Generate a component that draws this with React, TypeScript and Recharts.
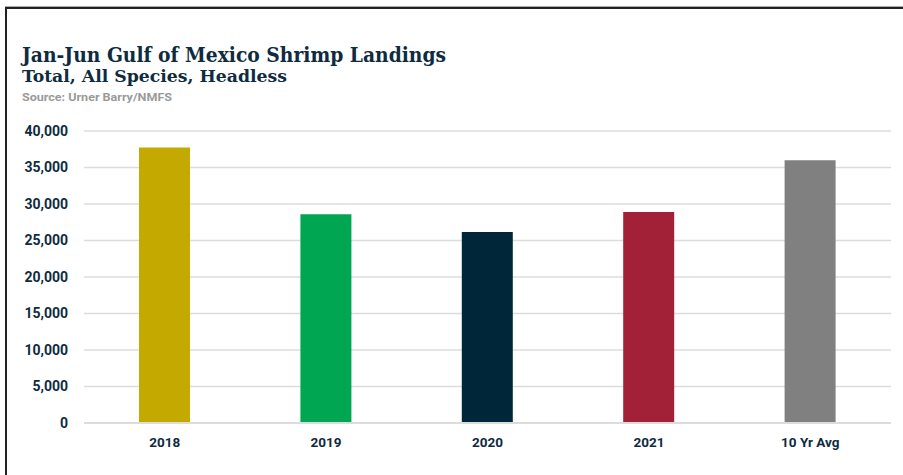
import React from "react";
import { BarChart, Bar, XAxis, YAxis, CartesianGrid, Cell } from "recharts";

const categories = ["2018", "2019", "2020", "2021", "10 Yr Avg"];
const landings = [37750, 28600, 26150, 28900, 36000];
const barColors = ["#C4A900", "#00A651", "#00263A", "#A32136", "#808080"];
const yTicks = [0, 5000, 10000, 15000, 20000, 25000, 30000, 35000, 40000];

const data = categories.map((c, i) => ({ name: c, value: landings[i] }));

const navy = "#0F2B40";

export default function App() {
  return (
    <div style={{ position: "absolute", left: 0, top: 0, width: 903, height: 475, background: "#fff", overflow: "hidden" }}>
      <div style={{ position: "absolute", left: 5, top: 6, width: 910, height: 1, background: "#aaa" }} />
      <div style={{ position: "absolute", left: 5, top: 7, width: 910, height: 2, background: "#222" }} />
      <div style={{ position: "absolute", left: 5, top: 7, width: 2, height: 480, background: "#222" }} />
      <svg style={{ position: "absolute", left: 0, top: 0 }} width={903} height={110}>
        <text x={22} y={62} fill={navy} fontFamily="DejaVu Serif Condensed, DejaVu Serif" fontWeight={700} fontSize={20.5} textLength={424} lengthAdjust="spacingAndGlyphs">
          Jan-Jun Gulf of Mexico Shrimp Landings
        </text>
        <text x={22} y={82} fill={navy} fontFamily="DejaVu Serif Condensed, DejaVu Serif" fontWeight={700} fontSize={17} textLength={265} lengthAdjust="spacingAndGlyphs">
          Total, All Species, Headless
        </text>
        <text x={22} y={101} fill="#9a9a9a" fontFamily="Roboto" fontWeight={700} fontSize={11} textLength={150} lengthAdjust="spacingAndGlyphs">
          Source: Urner Barry/NMFS
        </text>
      </svg>
      <div style={{ position: "absolute", left: 0, top: 0 }}>
        <BarChart width={903} height={475} data={data} margin={{ top: 131, right: 12, bottom: 22, left: 0 }}>
          <CartesianGrid vertical={false} stroke="#dcdcdc" strokeWidth={1.5} />
          <XAxis
            dataKey="name"
            axisLine={{ stroke: "#dcdcdc", strokeWidth: 2 }}
            tickLine={false}
            tickSize={0}
            tickMargin={14}
            height={30}
            tick={{ fill: navy, fontFamily: "Roboto", fontWeight: 700, fontSize: 13.5 }}
          />
          <YAxis
            domain={[0, 40000]}
            ticks={yTicks}
            width={84}
            axisLine={false}
            tickLine={false}
            tickSize={0}
            tickMargin={16}
            tickFormatter={(v: number) => v.toLocaleString("en-US")}
            tick={{ fill: navy, fontFamily: "Roboto", fontWeight: 700, fontSize: 14 }}
          />
          <Bar dataKey="value" barSize={51} isAnimationActive={false}>
            {data.map((d, i) => (
              <Cell key={d.name} fill={barColors[i]} />
            ))}
          </Bar>
        </BarChart>
      </div>
    </div>
  );
}
